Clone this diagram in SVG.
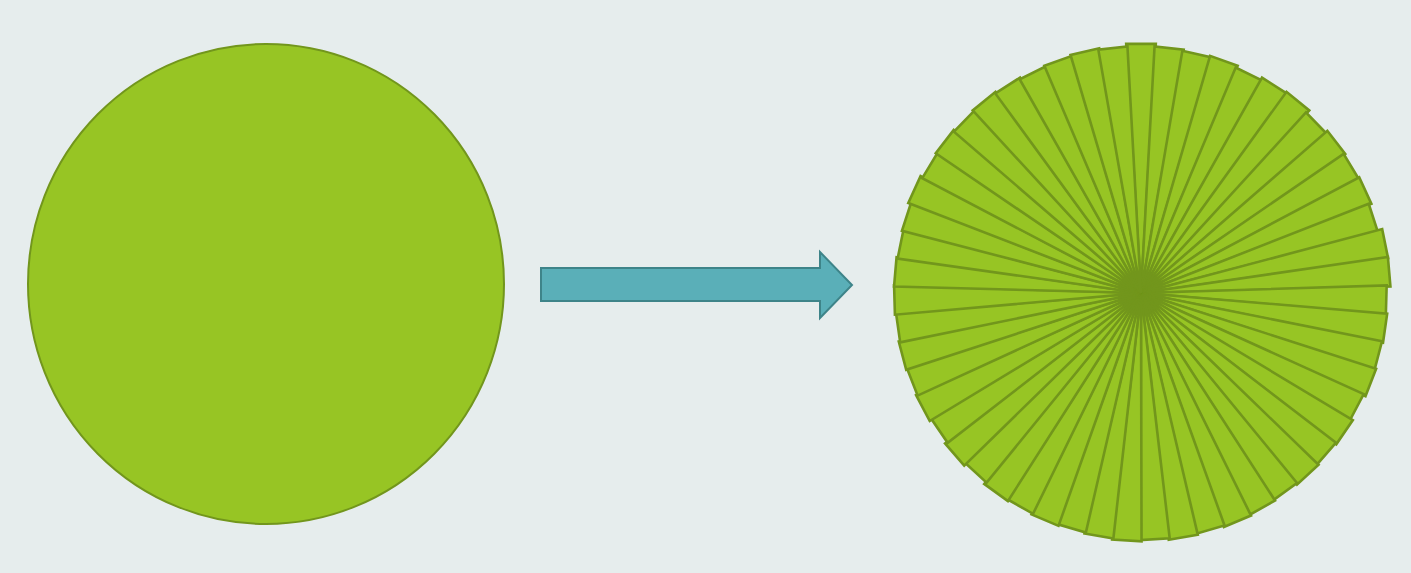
<svg xmlns="http://www.w3.org/2000/svg" xmlns:xlink="http://www.w3.org/1999/xlink" width="1411" height="573" viewBox="0 0 1411 573">
<style>
.g{fill:#97c524;stroke:#72961c;stroke-width:2;stroke-linejoin:round}
.w{fill:#97c524;stroke:#72961c;stroke-width:2.6;stroke-linejoin:miter}
.arr{fill:#5aafb8;stroke:#3e8489;stroke-width:2}
</style>
<defs>
<polygon id="w" class="w" points="0,0 -14.65,-246.6 14.65,-246.6"/>
</defs>
<rect width="1411" height="573" fill="#e6eded"/>
<g id="circle">
<ellipse class="g" cx="266" cy="284" rx="238" ry="240"/>
</g>
<g id="connectors">
<polygon id="arrow" class="arr" points="541,268 820,268 820,252 852,285 820,318 820,301 541,301"/>
</g>
<g id="wedges">
<use href="#w" transform="translate(1141,293) rotate(0) scale(1.01)"/>
<use href="#w" transform="translate(1141,293) rotate(6.545)"/>
<use href="#w" transform="translate(1141,293) rotate(13.091) scale(0.995)"/>
<use href="#w" transform="translate(1141,293) rotate(19.636)"/>
<use href="#w" transform="translate(1141,293) rotate(26.182) scale(0.99)"/>
<use href="#w" transform="translate(1141,293) rotate(32.727)"/>
<use href="#w" transform="translate(1141,293) rotate(39.273) scale(1.005)"/>
<use href="#w" transform="translate(1141,293) rotate(45.818) scale(0.99)"/>
<use href="#w" transform="translate(1141,293) rotate(52.364)"/>
<use href="#w" transform="translate(1141,293) rotate(58.909) scale(0.995)"/>
<use href="#w" transform="translate(1141,293) rotate(65.455)"/>
<use href="#w" transform="translate(1141,293) rotate(72) scale(0.99)"/>
<use href="#w" transform="translate(1141,293) rotate(78.545) scale(1.01)"/>
<use href="#w" transform="translate(1141,293) rotate(85.091) scale(1.01)"/>
<use href="#w" transform="translate(1141,293) rotate(91.636) scale(0.995)"/>
<use href="#w" transform="translate(1141,293) rotate(98.182)"/>
<use href="#w" transform="translate(1141,293) rotate(104.727) scale(0.995)"/>
<use href="#w" transform="translate(1141,293) rotate(111.273)"/>
<use href="#w" transform="translate(1141,293) rotate(117.818) scale(0.99)"/>
<use href="#w" transform="translate(1141,293) rotate(124.364)"/>
<use href="#w" transform="translate(1141,293) rotate(130.909) scale(0.995)"/>
<use href="#w" transform="translate(1141,293) rotate(137.455)"/>
<use href="#w" transform="translate(1141,293) rotate(144) scale(0.995)"/>
<use href="#w" transform="translate(1141,293) rotate(150.545)"/>
<use href="#w" transform="translate(1141,293) rotate(157.091) scale(1.005)"/>
<use href="#w" transform="translate(1141,293) rotate(163.636)"/>
<use href="#w" transform="translate(1141,293) rotate(170.182) scale(1.005)"/>
<use href="#w" transform="translate(1141,293) rotate(176.727)"/>
<use href="#w" transform="translate(1141,293) rotate(183.273) scale(1.005)"/>
<use href="#w" transform="translate(1141,293) rotate(189.818)"/>
<use href="#w" transform="translate(1141,293) rotate(196.364) scale(0.995)"/>
<use href="#w" transform="translate(1141,293) rotate(202.909)"/>
<use href="#w" transform="translate(1141,293) rotate(209.455) scale(0.995)"/>
<use href="#w" transform="translate(1141,293) rotate(216)"/>
<use href="#w" transform="translate(1141,293) rotate(222.545) scale(0.99)"/>
<use href="#w" transform="translate(1141,293) rotate(229.091)"/>
<use href="#w" transform="translate(1141,293) rotate(235.636) scale(0.99)"/>
<use href="#w" transform="translate(1141,293) rotate(242.182)"/>
<use href="#w" transform="translate(1141,293) rotate(248.727) scale(0.995)"/>
<use href="#w" transform="translate(1141,293) rotate(255.273)"/>
<use href="#w" transform="translate(1141,293) rotate(261.818) scale(0.995)"/>
<use href="#w" transform="translate(1141,293) rotate(268.364)"/>
<use href="#w" transform="translate(1141,293) rotate(274.909)"/>
<use href="#w" transform="translate(1141,293) rotate(281.455) scale(0.995)"/>
<use href="#w" transform="translate(1141,293) rotate(288)"/>
<use href="#w" transform="translate(1141,293) rotate(294.545) scale(1.01)"/>
<use href="#w" transform="translate(1141,293) rotate(301.091)"/>
<use href="#w" transform="translate(1141,293) rotate(307.636) scale(1.005)"/>
<use href="#w" transform="translate(1141,293) rotate(314.182)"/>
<use href="#w" transform="translate(1141,293) rotate(320.727) scale(1.005)"/>
<use href="#w" transform="translate(1141,293) rotate(327.273)"/>
<use href="#w" transform="translate(1141,293) rotate(333.818) scale(0.995)"/>
<use href="#w" transform="translate(1141,293) rotate(340.364)"/>
<use href="#w" transform="translate(1141,293) rotate(346.909) scale(1.005)"/>
<use href="#w" transform="translate(1141,293) rotate(353.455)"/>
</g>
</svg>
